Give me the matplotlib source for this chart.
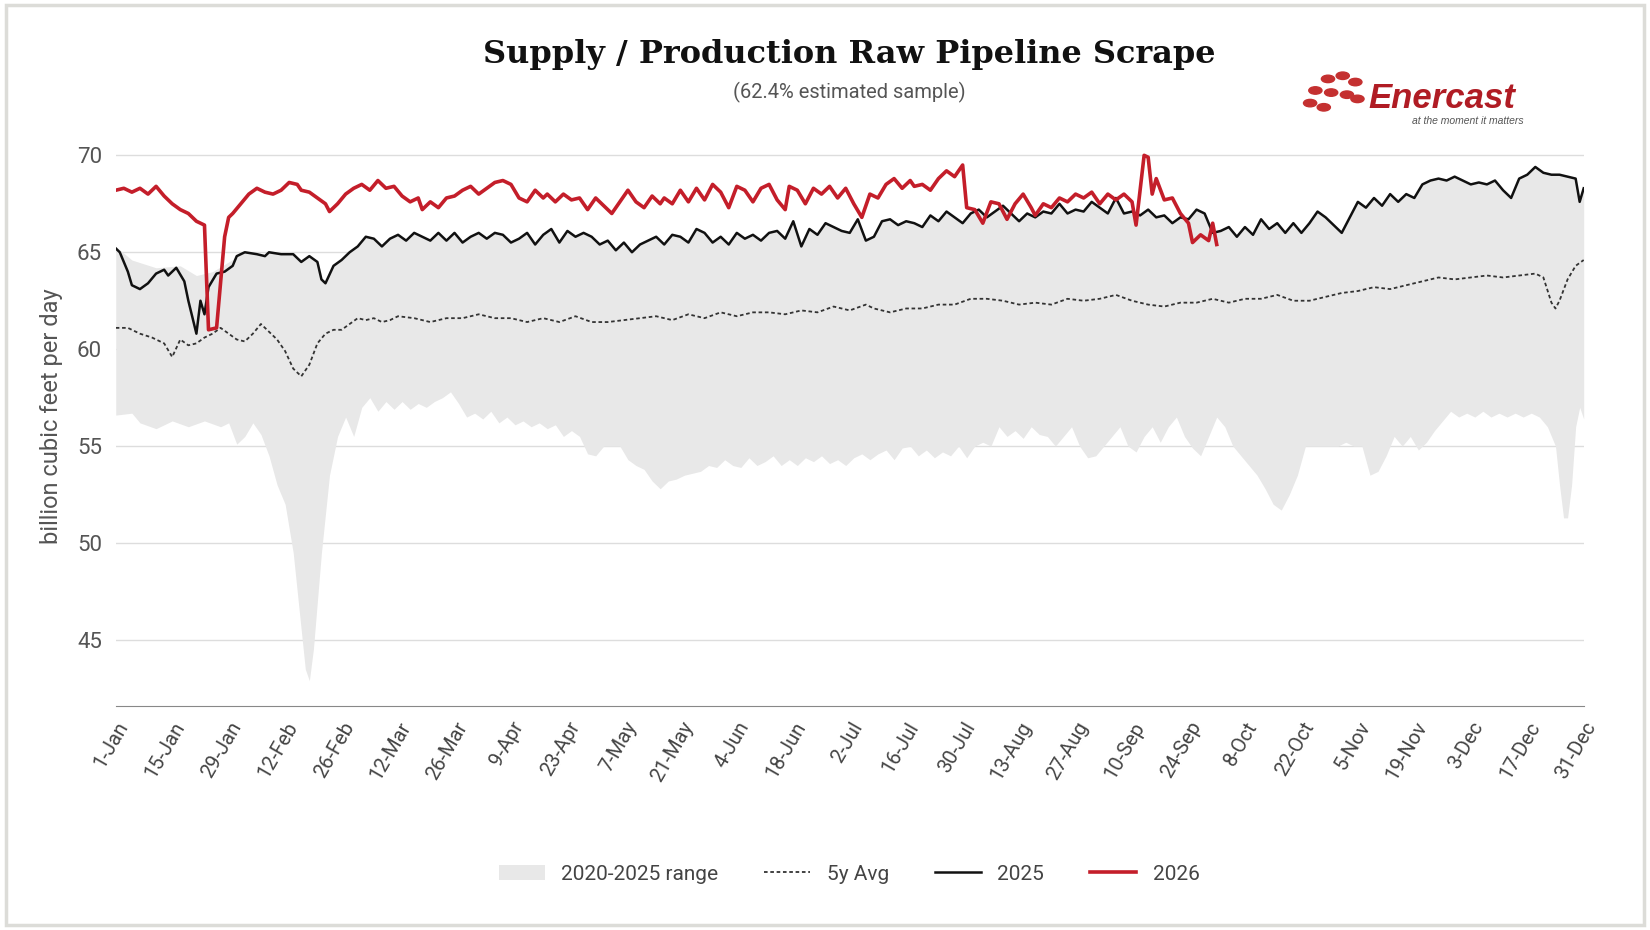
import matplotlib
matplotlib.use("Agg")
import matplotlib.pyplot as plt
import numpy as np
from matplotlib.patches import Rectangle

tick_days = list(range(0, 365, 14))
tick_labels = ["1-Jan","15-Jan","29-Jan","12-Feb","26-Feb","12-Mar","26-Mar","9-Apr","23-Apr","7-May",
               "21-May","4-Jun","18-Jun","2-Jul","16-Jul","30-Jul","13-Aug","27-Aug","10-Sep","24-Sep",
               "8-Oct","22-Oct","5-Nov","19-Nov","3-Dec","17-Dec","31-Dec"]

y2025 = [(0,65.2),(1,65.0),(3,64.0),(4,63.3),(6,63.1),(8,63.4),(10,63.9),(12,64.1),(13,63.8),(15,64.2),(17,63.5),(18,62.5),(20,60.8),(21,62.5),(22,61.8),(23,63.2),(25,63.9),(27,64.0),(29,64.3),(30,64.8),(32,65.0),(35,64.9),(37,64.8),(38,65.0),(41,64.9),(44,64.9),(46,64.5),(48,64.8),(50,64.5),(51,63.6),(52,63.4),(54,64.3),(56,64.6),(58,65.0),(60,65.3),(62,65.8),(64,65.7),(66,65.3),(68,65.7),(70,65.9),(72,65.6),(74,66.0),(76,65.8),(78,65.6),(80,66.0),(82,65.6),(84,66.0),(86,65.5),(88,65.8),(90,66.0),(92,65.7),(94,66.0),(96,65.9),(98,65.5),(100,65.7),(102,66.0),(104,65.4),(106,65.9),(108,66.2),(110,65.5),(112,66.1),(114,65.8),(116,66.0),(118,65.8),(120,65.4),(122,65.6),(124,65.1),(126,65.5),(128,65.0),(130,65.4),(132,65.6),(134,65.8),(136,65.4),(138,65.9),(140,65.8),(142,65.5),(144,66.2),(146,66.0),(148,65.5),(150,65.8),(152,65.4),(154,66.0),(156,65.7),(158,65.9),(160,65.6),(162,66.0),(164,66.1),(166,65.7),(168,66.6),(170,65.3),(172,66.2),(174,65.9),(176,66.5),(178,66.3),(180,66.1),(182,66.0),(184,66.7),(186,65.6),(188,65.8),(190,66.6),(192,66.7),(194,66.4),(196,66.6),(198,66.5),(200,66.3),(202,66.9),(204,66.6),(206,67.1),(208,66.8),(210,66.5),(212,67.0),(214,67.2),(216,66.8),(218,67.1),(220,67.4),(222,67.0),(224,66.6),(226,67.0),(228,66.8),(230,67.1),(232,67.0),(234,67.5),(236,67.0),(238,67.2),(240,67.1),(242,67.6),(244,67.3),(246,67.0),(248,67.8),(250,67.0),(252,67.1),(254,66.9),(256,67.2),(258,66.8),(260,66.9),(262,66.5),(264,66.8),(266,66.7),(268,67.2),(270,67.0),(272,66.0),(274,66.1),(276,66.3),(278,65.8),(280,66.3),(282,65.9),(284,66.7),(286,66.2),(288,66.5),(290,66.0),(292,66.5),(294,66.0),(296,66.5),(298,67.1),(300,66.8),(302,66.4),(304,66.0),(306,66.8),(308,67.6),(310,67.3),(312,67.8),(314,67.4),(316,68.0),(318,67.6),(320,68.0),(322,67.8),(324,68.5),(326,68.7),(328,68.8),(330,68.7),(332,68.9),(334,68.7),(336,68.5),(338,68.6),(340,68.5),(342,68.7),(344,68.2),(346,67.8),(348,68.8),(350,69.0),(352,69.4),(354,69.1),(356,69.0),(358,69.0),(360,68.9),(362,68.8),(363,67.6),(364,68.3)]

y2026 = [(0,68.2),(2,68.3),(4,68.1),(6,68.3),(8,68.0),(10,68.4),(12,67.9),(14,67.5),(16,67.2),(18,67.0),(20,66.6),(22,66.4),(23,61.0),(25,61.1),(27,65.8),(28,66.8),(29,67.0),(31,67.5),(33,68.0),(35,68.3),(37,68.1),(39,68.0),(41,68.2),(43,68.6),(45,68.5),(46,68.2),(48,68.1),(50,67.8),(52,67.5),(53,67.1),(55,67.5),(57,68.0),(59,68.3),(61,68.5),(63,68.2),(65,68.7),(67,68.3),(69,68.4),(71,67.9),(73,67.6),(75,67.8),(76,67.2),(78,67.6),(80,67.3),(82,67.8),(84,67.9),(86,68.2),(88,68.4),(90,68.0),(92,68.3),(94,68.6),(96,68.7),(98,68.5),(100,67.8),(102,67.6),(104,68.2),(106,67.8),(107,68.0),(109,67.6),(111,68.0),(113,67.7),(115,67.8),(117,67.2),(119,67.8),(121,67.4),(123,67.0),(125,67.6),(127,68.2),(129,67.6),(131,67.3),(133,67.9),(135,67.5),(136,67.8),(138,67.5),(140,68.2),(142,67.6),(144,68.3),(146,67.7),(148,68.5),(150,68.1),(152,67.3),(154,68.4),(156,68.2),(158,67.6),(160,68.3),(162,68.5),(164,67.7),(166,67.2),(167,68.4),(169,68.2),(171,67.5),(173,68.3),(175,68.0),(177,68.4),(179,67.8),(181,68.3),(183,67.5),(185,66.8),(187,68.0),(189,67.8),(191,68.5),(193,68.8),(195,68.3),(197,68.7),(198,68.4),(200,68.5),(202,68.2),(204,68.8),(206,69.2),(208,68.9),(210,69.5),(211,67.3),(213,67.2),(215,66.5),(217,67.6),(219,67.5),(221,66.7),(223,67.5),(225,68.0),(227,67.3),(228,66.9),(230,67.5),(232,67.3),(234,67.8),(236,67.6),(238,68.0),(240,67.8),(242,68.1),(244,67.5),(246,68.0),(248,67.7),(250,68.0),(252,67.6),(253,66.4),(255,70.0),(256,69.9),(257,68.0),(258,68.8),(260,67.7),(262,67.8),(264,67.0),(266,66.5),(267,65.5),(269,65.9),(271,65.6),(272,66.5),(273,65.4)]

avg5 = [(0,61.1),(3,61.1),(6,60.8),(9,60.6),(12,60.3),(14,59.6),(16,60.5),(18,60.2),(20,60.3),(22,60.6),(24,60.8),(26,61.1),(28,60.8),(30,60.5),(32,60.4),(34,60.8),(36,61.3),(38,60.9),(40,60.5),(42,59.9),(44,59.0),(46,58.6),(48,59.2),(50,60.3),(52,60.8),(54,61.0),(56,61.0),(58,61.3),(60,61.6),(62,61.5),(64,61.6),(66,61.4),(68,61.5),(70,61.7),(74,61.6),(78,61.4),(82,61.6),(86,61.6),(90,61.8),(94,61.6),(98,61.6),(102,61.4),(106,61.6),(110,61.4),(114,61.7),(118,61.4),(122,61.4),(126,61.5),(130,61.6),(134,61.7),(138,61.5),(142,61.8),(146,61.6),(150,61.9),(154,61.7),(158,61.9),(162,61.9),(166,61.8),(170,62.0),(174,61.9),(178,62.2),(182,62.0),(186,62.3),(188,62.1),(192,61.9),(196,62.1),(200,62.1),(204,62.3),(208,62.3),(212,62.6),(216,62.6),(220,62.5),(224,62.3),(228,62.4),(232,62.3),(236,62.6),(240,62.5),(244,62.6),(248,62.8),(252,62.5),(256,62.3),(260,62.2),(264,62.4),(268,62.4),(272,62.6),(276,62.4),(280,62.6),(284,62.6),(288,62.8),(292,62.5),(296,62.5),(300,62.7),(304,62.9),(308,63.0),(312,63.2),(316,63.1),(320,63.3),(324,63.5),(328,63.7),(332,63.6),(336,63.7),(340,63.8),(344,63.7),(348,63.8),(352,63.9),(354,63.7),(356,62.4),(357,62.1),(358,62.5),(360,63.6),(362,64.3),(364,64.6)]

range_min = [(0,56.6),(4,56.7),(6,56.2),(10,55.9),(14,56.3),(18,56.0),(22,56.3),(26,56.0),(28,56.2),(30,55.1),(32,55.5),(34,56.2),(36,55.6),(38,54.5),(40,53.0),(42,52.0),(44,49.5),(46,45.5),(47,43.5),(48,42.9),(49,44.5),(51,49.5),(53,53.5),(55,55.5),(57,56.5),(59,55.5),(61,57.0),(63,57.5),(65,56.8),(67,57.3),(69,56.9),(71,57.3),(73,56.9),(75,57.2),(77,57.0),(79,57.3),(81,57.5),(83,57.8),(85,57.2),(87,56.5),(89,56.7),(91,56.4),(93,56.8),(95,56.2),(97,56.5),(99,56.1),(101,56.3),(103,56.0),(105,56.2),(107,55.9),(109,56.1),(111,55.5),(113,55.8),(115,55.5),(117,54.6),(119,54.5),(121,55.0),(123,55.0),(125,55.0),(127,54.3),(129,54.0),(131,53.8),(133,53.2),(135,52.8),(137,53.2),(139,53.3),(141,53.5),(143,53.6),(145,53.7),(147,54.0),(149,53.9),(151,54.3),(153,54.0),(155,53.9),(157,54.4),(159,54.0),(161,54.2),(163,54.5),(165,54.0),(167,54.3),(169,54.0),(171,54.4),(173,54.2),(175,54.5),(177,54.1),(179,54.3),(181,54.0),(183,54.4),(185,54.6),(187,54.3),(189,54.6),(191,54.8),(193,54.3),(195,54.9),(197,55.0),(199,54.5),(201,54.8),(203,54.4),(205,54.7),(207,54.5),(209,55.0),(211,54.4),(213,55.0),(215,55.2),(217,55.0),(219,56.0),(221,55.5),(223,55.8),(225,55.4),(227,56.0),(229,55.6),(231,55.5),(233,55.0),(235,55.5),(237,56.0),(239,55.0),(241,54.4),(243,54.5),(245,55.0),(247,55.5),(249,56.0),(251,55.0),(253,54.7),(255,55.5),(257,56.0),(259,55.2),(261,56.0),(263,56.5),(265,55.5),(267,54.9),(269,54.5),(271,55.5),(273,56.5),(275,56.0),(277,55.0),(279,54.5),(281,54.0),(283,53.5),(285,52.8),(287,52.0),(289,51.7),(291,52.5),(293,53.5),(295,55.0),(297,55.0),(299,55.0),(301,55.0),(303,55.0),(305,55.2),(307,55.0),(309,55.0),(311,53.5),(313,53.7),(315,54.5),(317,55.5),(319,55.0),(321,55.5),(323,54.8),(325,55.2),(327,55.8),(329,56.3),(331,56.8),(333,56.5),(335,56.7),(337,56.5),(339,56.8),(341,56.5),(343,56.7),(345,56.5),(347,56.7),(349,56.5),(351,56.7),(353,56.5),(355,56.0),(357,55.0),(358,53.0),(359,51.3),(360,51.3),(361,53.0),(362,56.0),(363,57.0),(364,56.4)]

# upper edge of range in early January (elsewhere the 2025 line forms the top)
range_max_extra = [(0,65.3),(4,64.6),(10,64.2),(16,64.3),(20,63.8),(24,64.0),(28,64.5),(32,65.0),(36,60.0),(364,60.0)]

RED = "#c41e2a"
W, H = 1568.0, 884.0  # reference layout units

def xy(pairs):
    a = np.array(pairs, dtype=float)
    return a[:, 0], a[:, 1]

fig = plt.figure(figsize=(16.5, 9.3), dpi=100)
fig.patches.append(Rectangle((6/W, 5/H), 1-12/W, 1-10/H, transform=fig.transFigure,
                             fill=False, edgecolor="#dcdcd8", linewidth=2.5))
ax = fig.add_axes([110/W, 1-671/H, (1505-110)/W, (671-120)/H])

grid = np.arange(0, 365)
bx, by = xy(y2025)
ex, ey = xy(range_max_extra)
mx, my = xy(range_min)
upper = np.maximum(np.interp(grid, bx, by), np.interp(grid, ex, ey))
lower = np.interp(grid, mx, my)
ax.fill_between(grid, lower, upper, color="#e8e8e8", linewidth=0, label="2020-2025 range", zorder=1)
ax.plot(*xy(avg5), color="#333333", lw=1.3, ls=(0, (2, 1.5)), label="5y Avg", zorder=2)
ax.plot(bx, by, color="#111111", lw=1.8, label="2025", zorder=3)
ax.plot(*xy(y2026), color=RED, lw=2.6, label="2026", zorder=4)

ax.set_xlim(0, 364)
ax.set_ylim(41.6, 71.5)
ax.set_yticks([45, 50, 55, 60, 65, 70])
ax.set_xticks(tick_days)
ax.set_xticklabels(tick_labels, rotation=60, ha="right", rotation_mode="anchor")
ax.tick_params(axis="x", length=0, labelsize=14.5, colors="#444444", pad=9)
ax.tick_params(axis="y", length=0, labelsize=16, colors="#555555", pad=10)
for lab in ax.get_xticklabels() + ax.get_yticklabels():
    lab.set_fontfamily("Roboto")
ax.grid(axis="y", color="#dddddd", lw=1)
ax.set_axisbelow(True)
for s in ["top", "right", "left"]:
    ax.spines[s].set_visible(False)
ax.spines["bottom"].set_color("#888888")
ax.set_ylabel("billion cubic feet per day", fontsize=17, color="#555555", family="Roboto", labelpad=10)

fig.text(807/W, 1-52/H, "Supply / Production Raw Pipeline Scrape", ha="center", va="center",
         fontsize=23, fontweight="bold", family="DejaVu Serif", color="#111111")
fig.text(807/W, 1-88/H, "(62.4% estimated sample)", ha="center", va="center", fontsize=14.5,
         color="#555555", family="Roboto")
# logo
fig.text(1300/W, 1-94/H, "Enercast", fontsize=25, fontweight="bold", style="italic", color="#b01c24",
         family="Liberation Sans", va="center")
fig.text(1342/W, 1-115/H, "at the moment it matters", fontsize=7.5, style="italic", color="#555555",
         family="Liberation Sans", va="center")
for (cx, cy) in [(1262, 75), (1276, 72), (1288, 78), (1250, 86), (1265, 88), (1280, 90), (1245, 98), (1258, 102), (1290, 94)]:
    fig.patches.append(plt.Circle((cx/W, 1-cy/H), 0.0040, transform=fig.transFigure, color="#c43030"))

leg = fig.legend(loc="center", bbox_to_anchor=(807/W, 1-831/H), ncol=4, frameon=False,
                 handlelength=2.2, columnspacing=2.2,
                 prop={"family": "Roboto", "size": 15})
for t in leg.get_texts():
    t.set_color("#444444")
fig.savefig("out.png", dpi=100)
